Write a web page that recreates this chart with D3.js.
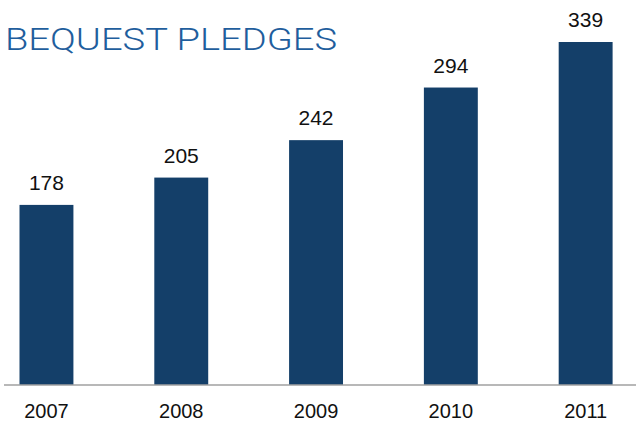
<!DOCTYPE html>
<html><head><meta charset="utf-8">
<script src="https://cdn.jsdelivr.net/npm/d3@7"></script>
<style>html,body{margin:0;padding:0;background:#fff;overflow:hidden}</style>
</head><body>
<svg id="c" width="636" height="421"></svg>
<script>
const years = ["2007","2008","2009","2010","2011"];
const pledges = [178, 205, 242, 294, 339];
const title = "BEQUEST PLEDGES";

const svg = d3.select("#c");
const x = d3.scaleBand().domain(years).range([19.5, 612.6]).paddingInner(0.6).paddingOuter(0);
const y = d3.scaleLinear().domain([0, 339]).range([385, 42]);
const numFont = "'Liberation Sans Narrow','Arial Narrow',Arial,sans-serif";

svg.append("text").attr("x", 5).attr("y", 50)
  .attr("font-family", "Roboto, Arial, sans-serif").attr("font-weight", 300)
  .attr("font-size", 31).attr("fill", "#1f5e9d")
  .attr("textLength", 332).attr("lengthAdjust", "spacingAndGlyphs")
  .text(title);

svg.selectAll("rect.bar").data(years).join("rect").attr("class","bar")
  .attr("x", d => x(d)).attr("width", x.bandwidth())
  .attr("y", (d,i) => y(pledges[i])).attr("height", (d,i) => y(0) - y(pledges[i]))
  .attr("fill", "#143f69");

svg.selectAll("text.val").data(years).join("text").attr("class","val")
  .attr("x", d => x(d) + x.bandwidth()/2).attr("y", (d,i) => y(pledges[i]) - 15)
  .attr("text-anchor", "middle").attr("font-family", numFont).attr("font-size", 21)
  .attr("fill", "#111").text((d,i) => pledges[i]);

const xAxis = d3.axisBottom(x).tickSize(0).tickPadding(20);
const g = svg.append("g").attr("transform", "translate(0,385)").call(xAxis);
g.select(".domain").remove();
g.selectAll("text").attr("font-family", numFont).attr("font-size", 20).attr("fill", "#111")
  .attr("dy", null).attr("y", 33);
svg.append("line").attr("x1", 4).attr("x2", 636).attr("y1", 385).attr("y2", 385)
  .attr("stroke", "#a0a0a0").attr("stroke-width", 1.5);
</script>
</body></html>
